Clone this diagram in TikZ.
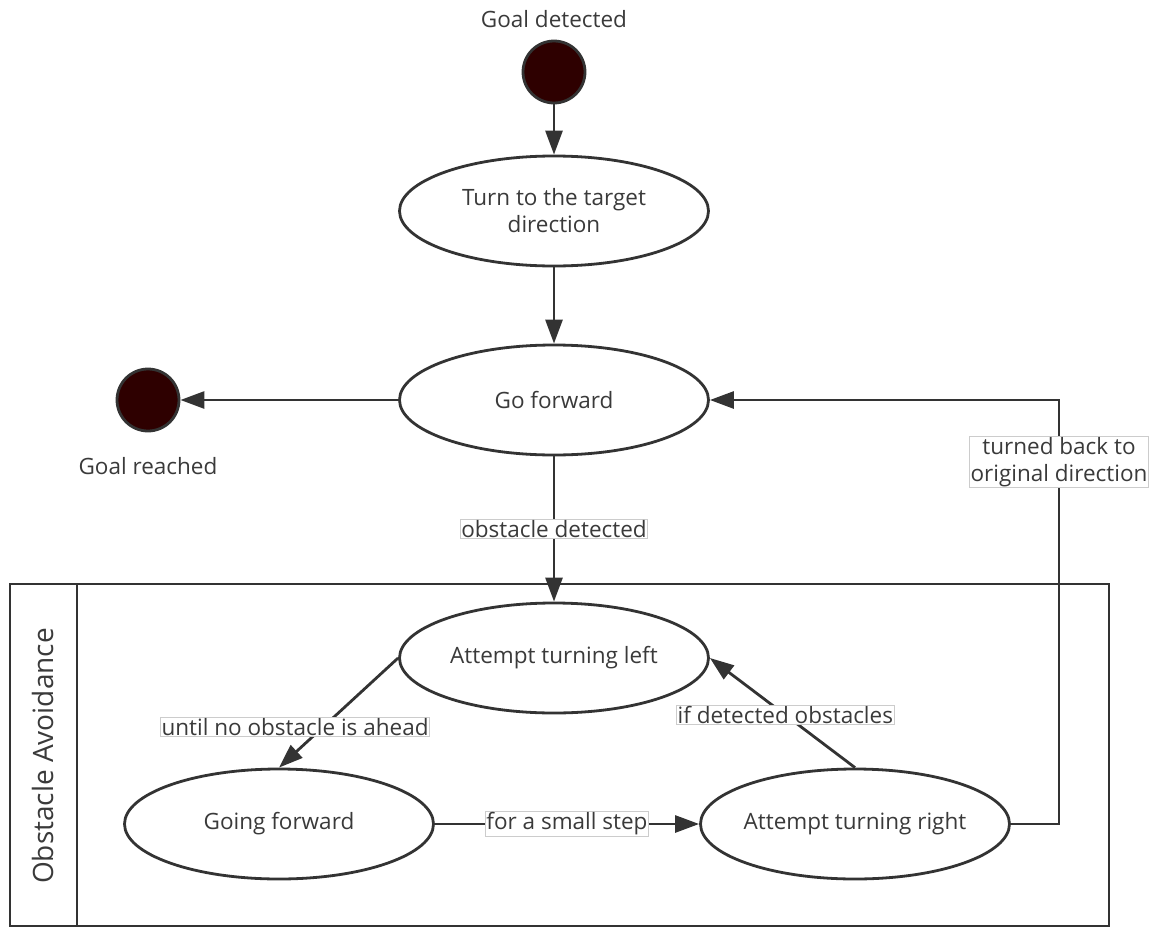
\documentclass[tikz,border=0pt]{standalone}
\usepackage{fontspec}
\setmainfont{Open Sans}
\usetikzlibrary{shapes.geometric,arrows.meta,calc}
\definecolor{ln}{HTML}{333333}
\definecolor{dot}{HTML}{2E0000}
\definecolor{tx}{HTML}{3A3A3A}
\begin{document}
\begin{tikzpicture}[x=1pt,y=-1pt,
  every node/.style={font=\fontsize{22.5}{27}\selectfont, text=tx},
  state/.style={ellipse, draw=ln, line width=2.8pt, minimum width=309pt, minimum height=110pt, inner xsep=-5pt, inner ysep=0pt, align=center, fill=white},
  term/.style={circle, draw=ln, line width=2.8pt, fill=dot, minimum size=62pt, inner sep=0pt},
  conn/.style={draw=ln, line width=2.8pt, -{Triangle[length=24pt,width=17pt]}},
  lbl/.style={fill=white, draw=black!20, line width=0.6pt, inner sep=1pt, align=center}]
\useasboundingbox (0,0) rectangle (1160,929);
% swimlane
\draw[ln, line width=2.8pt] (10,584) rectangle (1109,926);
\draw[ln, line width=2.8pt] (77,584) -- (77,926);
\node[rotate=90, font=\fontsize{28}{32}\selectfont] (lane) at (43,756) {Obstacle Avoidance};
% nodes
\node[term] (start) at (554,72) {};
\node (startlbl) at (554,19) {Goal detected};
\node[state] (turn) at (554,211) {Turn to the target\\direction};
\node[state] (go) at (554,400) {Go forward};
\node[term] (finish) at (148,400) {};
\node (finishlbl) at (148,466) {Goal reached};
\node[state] (left) at (554,658) {Attempt turning left};
\node[state] (going) at (279,824) {Going forward};
\node[state] (right) at (855,824) {Attempt turning right};
\coordinate (cr) at (1059,824);
\coordinate (ctop) at (1059,400);
% connectors
\draw[conn] (start) -- (turn);
\draw[conn] (turn) -- (go);
\draw[conn] (go.west) -- (finish);
\draw[conn] (go) -- node[lbl] (l1) {obstacle detected} (left);
\draw[conn] (left.west) -- node[lbl, pos=0.63, xshift=-28pt] (l2) {until no obstacle is ahead} (going.north);
\draw[conn] (going) -- node[lbl] (l3) {for a small step} (right);
\draw[conn] (right.north) -- node[lbl, pos=0.48] (l4) {if detected obstacles} (left.east);
\draw[conn] (right.east) -- (cr) -- (ctop) -- (go.east);
\node[lbl] (l5) at (1059,462) {turned back to\\original direction};
\end{tikzpicture}
\end{document}
